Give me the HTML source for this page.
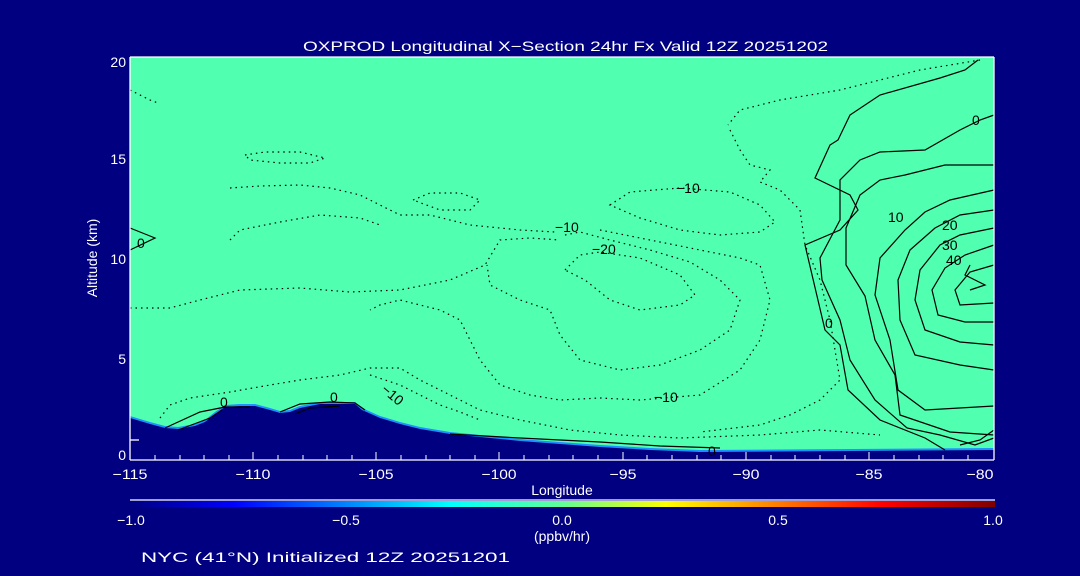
<!DOCTYPE html>
<html><head><meta charset="utf-8"><style>
html,body{margin:0;padding:0;background:#000080;}
svg{display:block;}
text{font-family:"Liberation Sans",sans-serif;fill:#fff;font-size:14px;}
</style></head><body>
<svg width="1080" height="576" viewBox="0 0 1080 576" xmlns="http://www.w3.org/2000/svg">
<defs>
<linearGradient id="cb" x1="0" x2="1" y1="0" y2="0">
<stop offset="0" stop-color="#000080"/>
<stop offset="0.12" stop-color="#0000ff"/>
<stop offset="0.37" stop-color="#00ffff"/>
<stop offset="0.5" stop-color="#60ff98"/>
<stop offset="0.62" stop-color="#ffff00"/>
<stop offset="0.87" stop-color="#ff0000"/>
<stop offset="1" stop-color="#800000"/>
</linearGradient>
</defs>
<rect width="1080" height="576" fill="#000080"/>
<text x="303" y="51" font-size="16" textLength="525" lengthAdjust="spacingAndGlyphs">OXPROD Longitudinal X−Section 24hr  Fx Valid 12Z 20251202</text>
<rect x="130" y="57" width="864" height="403" fill="#50ffb0"/>
<!-- terrain -->
<polygon fill="#1e90ff" points="130,416 150,422 165,426 178,427 195,424 205,420 215,412 225,405 240,404 255,404 270,408 280,411 290,410 300,406 320,402 335,402 355,402 362,408 380,416 400,422 420,427 450,432 480,435 520,439 560,442 600,445 650,448 700,450 994,448 994,460 130,460"/>
<polygon fill="#000080" points="130,418 150,424 165,428 178,429 195,426 205,422 215,414 225,407 240,406 255,406 270,410 280,413 290,412 300,408 320,404 335,404 355,404 362,410 380,418 400,424 420,429 450,434 480,437 520,441 560,444 600,447 650,450 700,452 994,450 994,460 130,460"/>
<!-- contours -->
<g fill="none" stroke="#000" stroke-width="1.2">
<path d="M130,228 L155,238 L130,250"/>
<path d="M165,428 L200,412 L225,407 L250,407"/>
<path d="M178,430 L210,418 L222,410"/>
<path d="M280,412 L300,404 L330,402 L355,403 L365,410"/>
<path d="M295,414 L310,408 L340,406"/>
<path d="M450,434 L520,438 L600,442 L660,446 L720,448"/>
<path d="M978,60 L965,70 L940,78 L880,95 L850,115 L838,140 L830,145 L815,178 L850,195 L858,210 L840,230 L805,245 L825,330 L840,345 L848,390 L880,420 L925,438 L945,450"/>
<path d="M994,115 L980,120 L960,130 L925,150 L880,152 L860,160 L840,180 L840,220 L820,258 L822,280 L840,320 L850,360 L875,400 L907,428 L940,435 L975,445 L994,438"/>
<path d="M994,165 L945,165 L905,175 L880,180 L860,195 L846,228 L846,265 L865,296 L875,340 L895,375 L900,415 L950,432 L994,435"/>
<path d="M994,190 L950,200 L925,212 L905,230 L880,258 L875,295 L890,340 L898,390 L925,410 L994,406"/>
<path d="M994,210 L960,215 L935,228 L910,250 L898,280 L900,320 L915,355 L960,365 L994,370"/>
<path d="M994,228 L960,235 L940,245 L920,270 L915,300 L925,330 L960,342 L994,345"/>
<path d="M994,245 L965,255 L945,268 L932,290 L938,315 L965,322 L994,322"/>
<path d="M994,265 L970,272 L955,290 L960,305 L994,303"/>
<path d="M970,265 L965,275 L985,285 L970,290"/>
<path d="M994,430 L980,440 L960,445"/>
</g>
<g fill="none" stroke="#000" stroke-width="1.2" stroke-dasharray="1.5,4">
<path d="M130,90 L150,100 L158,103"/>
<path d="M245,155 L265,152 L300,152 L325,158 L310,163 L280,163 L250,160 Z"/>
<path d="M230,188 L260,186 L300,185 L330,188 L360,195 L380,205 L400,215 L430,215 L470,225 L520,230 L555,232"/>
<path d="M230,240 L240,230 L280,222 L320,215 L360,218 L380,225"/>
<path d="M413,200 L430,193 L460,193 L480,200 L470,210 L440,210 Z"/>
<path d="M130,308 L170,308 L200,300 L240,290 L300,288 L350,292 L400,290 L450,280 L485,265 L500,240 L530,238 L560,240"/>
<path d="M565,235 L580,232 L610,240 L650,250 L690,262 L720,280 L740,300 L730,330 L700,350 L660,365 L620,370 L580,360 L560,335 L550,310 L520,300 L490,285 L487,265"/>
<path d="M565,270 L580,255 L600,252 L640,258 L680,275 L695,295 L680,305 L640,310 L610,300 L585,280 Z"/>
<path d="M610,205 L630,192 L680,188 L730,192 L760,205 L775,222 L760,232 L720,235 L680,230 L640,218 Z"/>
<path d="M730,130 L740,150 L750,165 L770,170 L760,182 L780,190 L800,210 L805,245 L820,280 L830,320 L840,380 L820,400 L790,415 L760,425 L700,432"/>
<path d="M980,60 L920,70 L880,80 L840,90 L780,100 L740,110 L728,125"/>
<path d="M600,230 L650,240 L700,250 L740,258 L760,265 L770,300 L760,340 L740,370 L700,395 L640,400 L600,398 L560,400 L530,395 L500,385 L480,360 L470,340 L460,320 L440,310 L420,305 L400,300 L380,305 L370,310"/>
<path d="M160,418 L170,405 L190,398 L230,392 L270,385 L300,380 L340,375 L370,368 L400,368 L420,380 L440,390 L460,400 L480,410 L520,420 L570,430 L620,435 L680,438 L760,435 L820,430 L880,435"/>
<path d="M370,375 L400,385 L420,395 L440,405 L460,412 L480,420"/>
</g>
<!-- contour labels -->
<g font-size="12">
<text x="137" y="248" style="fill:#000" font-size="12">0</text>
<text x="220" y="407" style="fill:#000" font-size="12">0</text>
<text x="330" y="402" style="fill:#000" font-size="12">0</text>
<text x="380" y="398" style="fill:#000" font-size="12" transform="rotate(40 390 395)">−10</text>
<text x="555" y="232" style="fill:#000" font-size="12">−10</text>
<text x="592" y="254" style="fill:#000" font-size="12">−20</text>
<text x="676" y="193" style="fill:#000" font-size="12">−10</text>
<text x="654" y="402" style="fill:#000" font-size="12">−10</text>
<text x="708" y="456" style="fill:#000" font-size="12">0</text>
<text x="825" y="328" style="fill:#000" font-size="12">0</text>
<text x="888" y="222" style="fill:#000" font-size="12">10</text>
<text x="942" y="230" style="fill:#000" font-size="12">20</text>
<text x="942" y="250" style="fill:#000" font-size="12">30</text>
<text x="946" y="265" style="fill:#000" font-size="12">40</text>
<text x="972" y="125" style="fill:#000" font-size="12">0</text>
</g>
<!-- axes -->
<g stroke="#fff" stroke-width="1.3">
<line x1="130" y1="460" x2="994" y2="460"/>
<line x1="130" y1="57" x2="994" y2="57"/>
<line x1="130" y1="57" x2="130" y2="460"/>
<line x1="994" y1="57" x2="994" y2="460"/>
<line x1="130" y1="440" x2="139" y2="440"/>
</g>
<g stroke="#fff" stroke-width="1">
<line x1="130" y1="460" x2="130" y2="452"/><line x1="155" y1="460" x2="155" y2="455"/><line x1="180" y1="460" x2="180" y2="455"/><line x1="204" y1="460" x2="204" y2="455"/><line x1="229" y1="460" x2="229" y2="455"/>
<line x1="253" y1="460" x2="253" y2="452"/><line x1="278" y1="460" x2="278" y2="455"/><line x1="303" y1="460" x2="303" y2="455"/><line x1="327" y1="460" x2="327" y2="455"/><line x1="352" y1="460" x2="352" y2="455"/>
<line x1="376" y1="460" x2="376" y2="452"/><line x1="401" y1="460" x2="401" y2="455"/><line x1="426" y1="460" x2="426" y2="455"/><line x1="450" y1="460" x2="450" y2="455"/><line x1="475" y1="460" x2="475" y2="455"/>
<line x1="499" y1="460" x2="499" y2="452"/><line x1="524" y1="460" x2="524" y2="455"/><line x1="549" y1="460" x2="549" y2="455"/><line x1="573" y1="460" x2="573" y2="455"/><line x1="598" y1="460" x2="598" y2="455"/>
<line x1="623" y1="460" x2="623" y2="452"/><line x1="647" y1="460" x2="647" y2="455"/><line x1="672" y1="460" x2="672" y2="455"/><line x1="697" y1="460" x2="697" y2="455"/><line x1="721" y1="460" x2="721" y2="455"/>
<line x1="746" y1="460" x2="746" y2="452"/><line x1="771" y1="460" x2="771" y2="455"/><line x1="795" y1="460" x2="795" y2="455"/><line x1="820" y1="460" x2="820" y2="455"/><line x1="845" y1="460" x2="845" y2="455"/>
<line x1="869" y1="460" x2="869" y2="452"/><line x1="894" y1="460" x2="894" y2="455"/><line x1="919" y1="460" x2="919" y2="455"/><line x1="943" y1="460" x2="943" y2="455"/><line x1="968" y1="460" x2="968" y2="455"/>
</g>
<g text-anchor="middle">
<text x="130" y="479" textLength="35" lengthAdjust="spacingAndGlyphs">−115</text><text x="253" y="479" textLength="35" lengthAdjust="spacingAndGlyphs">−110</text><text x="376" y="479" textLength="35" lengthAdjust="spacingAndGlyphs">−105</text>
<text x="499" y="479" textLength="35" lengthAdjust="spacingAndGlyphs">−100</text><text x="623" y="479" textLength="27" lengthAdjust="spacingAndGlyphs">−95</text><text x="746" y="479" textLength="27" lengthAdjust="spacingAndGlyphs">−90</text>
<text x="869" y="479" textLength="27" lengthAdjust="spacingAndGlyphs">−85</text><text x="980" y="479" textLength="27" lengthAdjust="spacingAndGlyphs">−80</text>
<text x="562" y="495" font-size="13">Longitude</text>
</g>
<g text-anchor="end" font-size="14">
<text x="126" y="460">0</text><text x="126" y="364">5</text><text x="126" y="264">10</text>
<text x="126" y="164">15</text><text x="126" y="67">20</text>
</g>
<text x="97" y="258" text-anchor="middle" font-size="13" transform="rotate(-90 97 258)">Altitude (km)</text>
<!-- colorbar -->
<line x1="130" y1="500" x2="995" y2="500" stroke="#fff" stroke-width="1.3"/>
<rect x="130" y="501" width="865" height="6" fill="url(#cb)"/>
<g text-anchor="middle">
<text x="131" y="525">−1.0</text><text x="346" y="525">−0.5</text><text x="562" y="525">0.0</text>
<text x="778" y="525">0.5</text><text x="993" y="525">1.0</text>
<text x="562" y="541" font-size="13">(ppbv/hr)</text>
</g>
<text x="141" y="562" font-size="21" textLength="369" lengthAdjust="spacingAndGlyphs">NYC (41°N) Initialized 12Z 20251201</text>
</svg>
</body></html>
